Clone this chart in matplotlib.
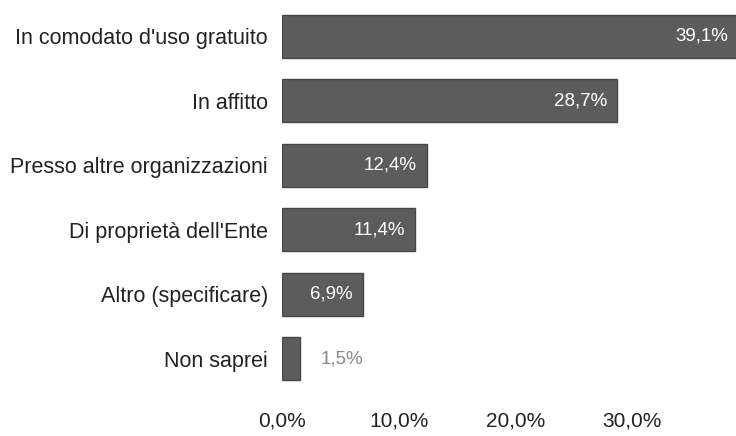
import matplotlib.pyplot as plt
from matplotlib.ticker import FuncFormatter

categorie = [
    "In comodato d'uso gratuito",
    "In affitto",
    "Presso altre organizzazioni",
    "Di proprietà dell'Ente",
    "Altro (specificare)",
    "Non saprei",
]
percentuali = [39.1, 28.7, 12.4, 11.4, 6.9, 1.5]
tick_valori = [0, 10, 20, 30]

plt.rcParams['font.family'] = ['Liberation Sans', 'DejaVu Sans']

fig = plt.figure(figsize=(7.36, 4.36), dpi=100)
ax = fig.add_axes([282 / 736, 1 - 391 / 436, 1 - 282 / 736, (391 - 4) / 436])

pos = list(range(len(categorie)))
ax.barh(pos, percentuali, height=0.67, color='#5c5c5c', edgecolor='#474747', linewidth=1)
ax.set_ylim(len(categorie) - 0.5, -0.5)
ax.set_xlim(0, 38.9)

def fmt(v):
    return f"{v:.1f}".replace('.', ',') + '%'

# etichette dentro la barra, tranne quelle troppo corte
for i, v in enumerate(percentuali):
    if v > 5:
        ax.annotate(fmt(v), (v, i), xytext=(-7, 0), textcoords='offset points',
                    ha='right', va='center', color='white', fontsize=13.5,
                    annotation_clip=False)
    else:
        ax.annotate(fmt(v), (v, i), xytext=(15, 0), textcoords='offset points',
                    ha='left', va='center', color='#8a8a8a', fontsize=13.5,
                    annotation_clip=False)

ax.set_yticks(pos)
ax.set_yticklabels(categorie, fontsize=15.5, color='#222222')
ax.set_xticks(tick_valori)
ax.xaxis.set_major_formatter(FuncFormatter(lambda v, p: fmt(v)))
ax.tick_params(axis='x', labelsize=15, colors='#222222', length=0, pad=15)
ax.tick_params(axis='y', length=0, pad=10)
for s in ax.spines.values():
    s.set_visible(False)

fig.savefig('out.png', dpi=100)
